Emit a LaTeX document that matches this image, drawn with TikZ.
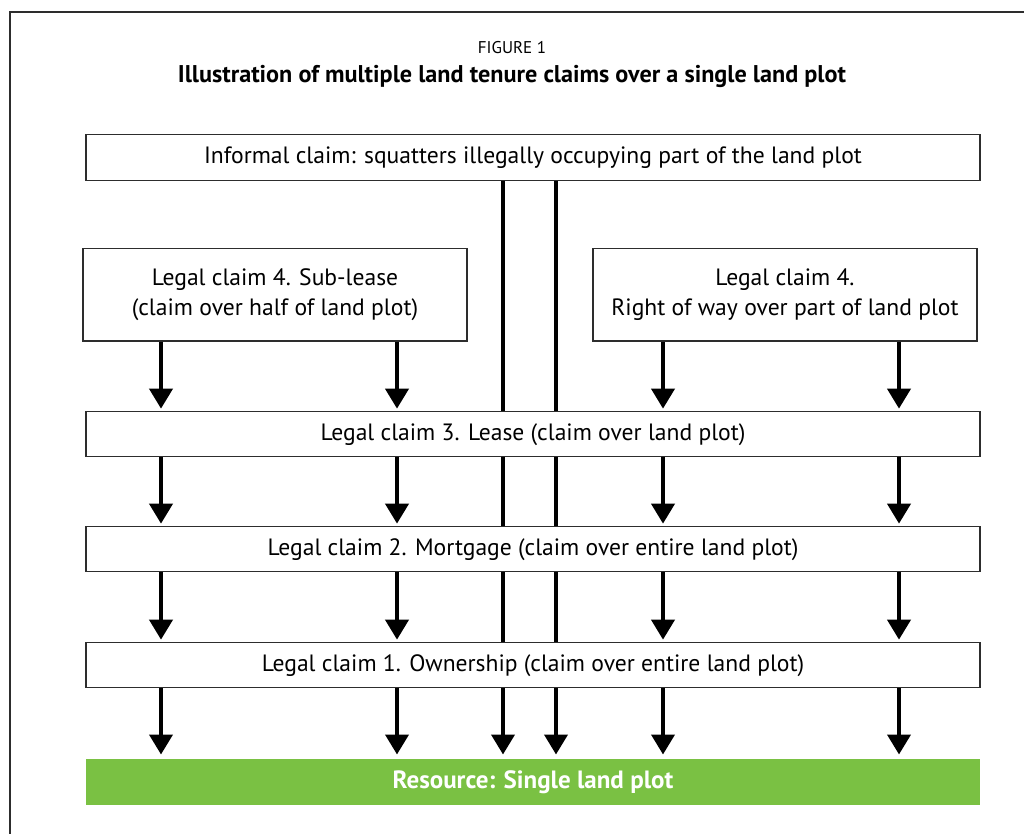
\documentclass[tikz,border=0pt]{standalone}
\usepackage{fontspec}
\setmainfont{PT Sans}
\usetikzlibrary{arrows.meta,backgrounds}
\definecolor{leaf}{RGB}{122,193,67}
\definecolor{edge}{RGB}{45,45,45}
\tikzset{
  claim/.style={draw=edge, line width=1.3pt, fill=white, rectangle, inner sep=0pt, align=center, font=\fontsize{23.6}{30}\selectfont},
  wide/.style={claim, minimum width=894pt, minimum height=45pt},
  side/.style={claim, minimum width=384pt, minimum height=92.5pt},
  arr/.style={line width=4pt, -{Triangle[width=23pt,length=20pt]}, shorten >=2.5pt},
  frame/.style={draw=edge, line width=1.3pt}
}
\begin{document}
\begin{tikzpicture}[x=1pt,y=-1pt]
\useasboundingbox (0,0) rectangle (1024,834);
\draw[frame] (1024,12) -- (10,12) -- (10,834);
\node[anchor=base, inner sep=0pt, font=\fontsize{17}{20}\selectfont] (fig) at (512,54) {FIGURE 1};
\node[anchor=base, inner sep=0pt, font=\fontsize{24.2}{26}\selectfont\bfseries] (title) at (512,82.3) {Illustration of multiple land tenure claims over a single land plot};

\node[wide, minimum height=46pt] (inf) at (533,157.3) {Informal claim: squatters illegally occupying part of the land plot};
\node[side] (sub) at (275,294.7) {Legal claim 4. Sub-lease\\(claim over half of land plot)};
\node[side] (row) at (785,294.7) {Legal claim 4.\\Right of way over part of land plot};
\node[wide] (lease) at (533,434.3) {Legal claim 3. Lease (claim over land plot)};
\node[wide] (mort) at (533,549.3) {Legal claim 2. Mortgage (claim over entire land plot)};
\node[wide] (own) at (533,665.3) {Legal claim 1. Ownership (claim over entire land plot)};
\node[fill=leaf, minimum width=894pt, minimum height=46pt, inner sep=0pt, text=white, font=\fontsize{25}{28}\selectfont\bfseries] (res) at (533,782) {Resource: Single land plot};

\coordinate (c1) at (161,0);
\coordinate (c2) at (397,0);
\coordinate (c3) at (503,0);
\coordinate (c4) at (556,0);
\coordinate (c5) at (663,0);
\coordinate (c6) at (899,0);

\begin{scope}[on background layer]
\draw[arr, shorten >=4.3pt] (inf.south -| c3) -- (res.north -| c3);
\draw[arr, shorten >=4.3pt] (inf.south -| c4) -- (res.north -| c4);
\end{scope}

\foreach \c in {c1,c2} {
  \draw[arr] (sub.south -| \c) -- (lease.north -| \c);
}
\foreach \c in {c5,c6} {
  \draw[arr] (row.south -| \c) -- (lease.north -| \c);
}
\foreach \c in {c1,c2,c5,c6} {
  \draw[arr] (lease.south -| \c) -- (mort.north -| \c);
  \draw[arr] (mort.south -| \c) -- (own.north -| \c);
  \draw[arr, shorten >=4.3pt] (own.south -| \c) -- (res.north -| \c);
}
\end{tikzpicture}
\end{document}
